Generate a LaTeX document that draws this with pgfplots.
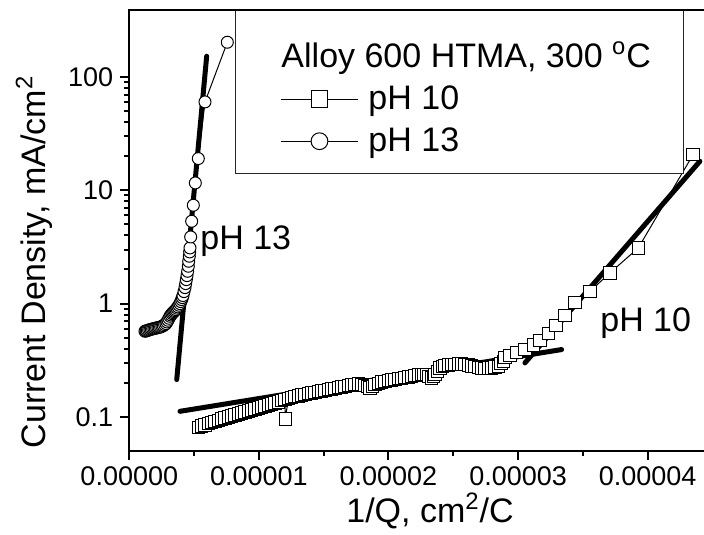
\documentclass[border=0pt]{standalone}
\usepackage{fontspec}
\setmainfont{Liberation Sans}
\usepackage{pgfplots}
\pgfplotsset{compat=1.18}
\begin{document}
\begin{tikzpicture}
\path[use as bounding box] (-64.65pt,-41.5pt) rectangle (287.35pt,225.5pt);
\begin{axis}[
  at={(0pt,0pt)}, anchor=south west,
  scale only axis, width=287.35pt, height=220.5pt,
  xmin=0, xmax=4.435e-5,
  ymode=log, ymin=0.05, ymax=390.1,
  axis x line*=bottom, axis y line*=left,
  axis line style={line width=1pt, -},
  xtick={0,1e-5,2e-5,3e-5,4e-5},
  xticklabels={0.00000,0.00001,0.00002,0.00003,0.00004},
  minor x tick num=1,
  ytick={0.1,1,10,100},
  yticklabels={0.1,1,10,100},
  scaled x ticks=false,
  tick align=outside,
  major tick length=4.5pt, minor tick length=2.5pt,
  tick style={line width=1pt, black},
  tick label style={font=\fontsize{13.5}{16}\selectfont},
  legend cell align=left,
  legend image code/.code={\draw[mark repeat=2,mark phase=2,#1,mark size=4.2pt] plot coordinates {(0pt,0pt) (19.25pt,0pt) (38.5pt,0pt)};},
  legend style={at={(axis description cs:0.1839,1)}, anchor=north west,
    draw=black!85, line width=0.5pt, fill=white,
    font=\fontsize{17}{20}\selectfont,
    inner xsep=22.5pt, inner ysep=5.65pt, column sep=5pt,
    nodes={inner sep=0pt, text depth=}},
]
\addlegendimage{empty legend}
\addlegendentry{\hspace*{-43.5pt}\rule[-5.5pt]{0pt}{28.2pt}Alloy 600 HTMA, 300 \textsuperscript{o}C\hspace*{-6pt}}

\addplot[black, line width=0.5pt, mark=square*, mark size=3.1pt, mark options={fill=white, draw=black, solid, line width=0.5pt}] table {
x y
0.5327e-5 0.0810
0.5584e-5 0.0829
0.5841e-5 0.0849
0.6099e-5 0.0870
0.6356e-5 0.0891
0.6613e-5 0.0912
0.6870e-5 0.0934
0.7127e-5 0.0956
0.7384e-5 0.0979
0.7642e-5 0.0999
0.7899e-5 0.1020
0.8156e-5 0.1041
0.8413e-5 0.1062
0.8670e-5 0.1084
0.8927e-5 0.1106
0.9185e-5 0.1129
0.9442e-5 0.1152
0.9699e-5 0.1176
0.9956e-5 0.1200
1.0214e-5 0.1225
1.0471e-5 0.1250
1.0728e-5 0.1276
1.0985e-5 0.1302
1.1242e-5 0.1328
1.1499e-5 0.1355
1.1757e-5 0.1388
1.2014e-5 0.1421
1.2040e-5 0.0959
1.2271e-5 0.1451
1.2528e-5 0.1481
1.2785e-5 0.1506
1.3042e-5 0.1531
1.3300e-5 0.1557
1.3557e-5 0.1584
1.3814e-5 0.1605
1.4071e-5 0.1627
1.4329e-5 0.1649
1.4586e-5 0.1672
1.4843e-5 0.1695
1.5100e-5 0.1718
1.5358e-5 0.1741
1.5615e-5 0.1765
1.5872e-5 0.1789
1.6129e-5 0.1814
1.6386e-5 0.1839
1.6644e-5 0.1864
1.6901e-5 0.1889
1.7158e-5 0.1915
1.7415e-5 0.1934
1.7672e-5 0.1954
1.7930e-5 0.1921
1.8187e-5 0.1889
1.8380e-5 0.1845
1.8573e-5 0.1802
1.8765e-5 0.1864
1.8958e-5 0.1928
1.9215e-5 0.1981
1.9473e-5 0.2035
1.9730e-5 0.2063
1.9987e-5 0.2091
2.0244e-5 0.2120
2.0502e-5 0.2149
2.0759e-5 0.2171
2.1016e-5 0.2193
2.1273e-5 0.2223
2.1530e-5 0.2253
2.1788e-5 0.2284
2.2045e-5 0.2315
2.2302e-5 0.2346
2.2559e-5 0.2378
2.2752e-5 0.2370
2.2945e-5 0.2362
2.3138e-5 0.2284
2.3331e-5 0.2208
2.3460e-5 0.2284
2.3588e-5 0.2362
2.3781e-5 0.2528
2.3974e-5 0.2705
2.4167e-5 0.2770
2.4360e-5 0.2837
2.4617e-5 0.2865
2.4874e-5 0.2894
2.5131e-5 0.2914
2.5388e-5 0.2934
2.5646e-5 0.2924
2.5903e-5 0.2914
2.6160e-5 0.2866
2.6417e-5 0.2818
2.6675e-5 0.2770
2.6932e-5 0.2723
2.7189e-5 0.2704
2.7446e-5 0.2686
2.7704e-5 0.2695
2.7961e-5 0.2705
2.8218e-5 0.2751
2.8475e-5 0.2798
2.8668e-5 0.2944
2.8860e-5 0.3097
2.8990e-5 0.3350
2.9370e-5 0.3500
2.9890e-5 0.3700
3.0530e-5 0.3950
3.1170e-5 0.4300
3.1690e-5 0.4710
3.2330e-5 0.5430
3.2920e-5 0.6400
3.3620e-5 0.7840
3.4390e-5 1.0270
3.5550e-5 1.2840
3.7090e-5 1.8660
3.9280e-5 3.1000
4.3500e-5 20.600
};
\addlegendentry{\rule[-5.5pt]{0pt}{21pt}pH 10}

\addplot[black, line width=0.5pt, mark=*, mark size=3pt, mark options={fill=white, draw=black, solid, line width=0.5pt}] table {
x y
0.1211e-5 0.570
0.1301e-5 0.574
0.1391e-5 0.578
0.1494e-5 0.584
0.1597e-5 0.590
0.1700e-5 0.594
0.1803e-5 0.598
0.1906e-5 0.602
0.2009e-5 0.606
0.2112e-5 0.610
0.2215e-5 0.614
0.2318e-5 0.618
0.2420e-5 0.622
0.2523e-5 0.630
0.2626e-5 0.639
0.2729e-5 0.652
0.2832e-5 0.666
0.2909e-5 0.689
0.2986e-5 0.713
0.3063e-5 0.742
0.3140e-5 0.773
0.3218e-5 0.794
0.3295e-5 0.816
0.3372e-5 0.833
0.3449e-5 0.850
0.3526e-5 0.867
0.3603e-5 0.885
0.3681e-5 0.910
0.3758e-5 0.935
0.3835e-5 0.967
0.3912e-5 1.000
0.3977e-5 1.042
0.4041e-5 1.085
0.4093e-5 1.130
0.4144e-5 1.177
0.4221e-5 1.276
0.4298e-5 1.384
0.4350e-5 1.502
0.4401e-5 1.628
0.4452e-5 1.766
0.4504e-5 1.929
0.4555e-5 2.136
0.4581e-5 2.364
0.4632e-5 2.617
0.4658e-5 2.858
0.4684e-5 3.099
0.4735e-5 3.876
0.4812e-5 5.330
0.4941e-5 7.379
0.5095e-5 11.61
0.5326e-5 19.05
0.5841e-5 60.26
0.7564e-5 202.6
};
\addlegendentry{\rule[-5.5pt]{0pt}{21pt}pH 13}

\addplot[black, line width=2.5pt, line cap=round, forget plot] coordinates {(0.366e-5,0.2134) (0.597e-5,152.3)};
\addplot[black, line width=2.5pt, line cap=round, forget plot] coordinates {(0.391e-5,0.112) (3.336e-5,0.393)};
\addplot[black, line width=2.5pt, line cap=round, forget plot] coordinates {(3.053e-5,0.2997) (4.403e-5,18.03)};

\node[anchor=base west, inner sep=0pt, font=\fontsize{17}{20}\selectfont] at (axis cs:0.5455e-5,3.0) {pH 13};
\node[anchor=base west, inner sep=0pt, font=\fontsize{17}{20}\selectfont] at (axis cs:3.632e-5,0.569) {pH 10};
\end{axis}
\draw[line width=1pt, line cap=rect] (0pt,220.5pt) -- (287.35pt,220.5pt);
\node[rotate=90, anchor=base, inner sep=0pt, font=\fontsize{17}{20}\selectfont] at (-42.15pt,94.5pt) {Current Density, mA/cm\textsuperscript{2}};
\node[anchor=base, inner sep=0pt, font=\fontsize{17}{20}\selectfont] at (150.35pt,-35.5pt) {1/Q, cm\textsuperscript{2}/C};
\end{tikzpicture}
\end{document}
